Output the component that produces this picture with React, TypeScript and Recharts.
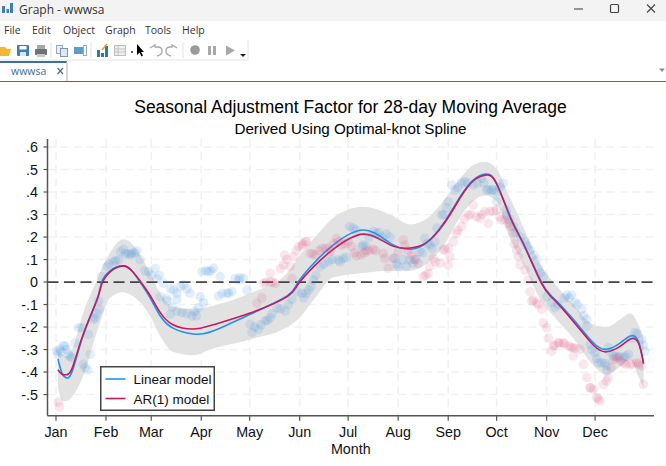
import React from 'react';
import { ComposedChart, Line, Area, Scatter, XAxis, YAxis, CartesianGrid, ReferenceLine, Legend } from 'recharts';

const MONTH_TICKS = [1, 32, 60, 91, 121, 152, 182, 213, 244, 274, 305, 335];
const MONTH_NAMES = ['Jan', 'Feb', 'Mar', 'Apr', 'May', 'Jun', 'Jul', 'Aug', 'Sep', 'Oct', 'Nov', 'Dec'];
const Y_TICKS = [-0.5, -0.4, -0.3, -0.2, -0.1, 0, 0.1, 0.2, 0.3, 0.4, 0.5, 0.6];
const MENU_ITEMS: [string, number][] = [['File', 4], ['Edit', 32], ['Object', 63], ['Graph', 105], ['Tools', 145], ['Help', 182]];

const days = [2.2, 4.7, 7.2, 10.9, 17.7, 26.4, 29.3, 34.5, 42.5, 48, 53.1, 59.3, 65.5, 73.5, 85.9, 98.3, 121.3, 144.2, 151, 161.6, 172.7, 191.3, 208, 220.5, 230.4, 241, 251.5, 259.5, 267, 273.8, 282.5, 290.5, 301.7, 309.1, 321.5, 333.9, 342, 350.7, 356.9, 361.8, 365];
const linearModel = [-0.342, -0.405, -0.425, -0.4, -0.24, -0.077, 0, 0.05, 0.072, 0.05, 0, -0.07, -0.15, -0.205, -0.231, -0.218, -0.143, -0.062, 0, 0.09, 0.164, 0.231, 0.173, 0.146, 0.173, 0.26, 0.38, 0.453, 0.48, 0.44, 0.29, 0.173, 0, -0.07, -0.166, -0.27, -0.299, -0.27, -0.24, -0.262, -0.365];
const ar1Model = [-0.39, -0.41, -0.412, -0.385, -0.235, -0.08, -0.01, 0.045, 0.072, 0.05, 0.005, -0.06, -0.135, -0.19, -0.209, -0.19, -0.138, -0.065, -0.01, 0.075, 0.145, 0.213, 0.165, 0.151, 0.175, 0.255, 0.375, 0.45, 0.475, 0.44, 0.285, 0.17, -0.005, -0.075, -0.175, -0.28, -0.31, -0.285, -0.253, -0.27, -0.36];
const bandHigh = [-0.31, -0.32, -0.33, -0.3, -0.14, 0.01, 0.06, 0.13, 0.19, 0.17, 0.12, 0.04, -0.05, -0.11, -0.12, -0.105, -0.05, 0.04, 0.11, 0.2, 0.285, 0.335, 0.3, 0.256, 0.28, 0.36, 0.46, 0.52, 0.535, 0.505, 0.37, 0.245, 0.07, 0, -0.1, -0.19, -0.2, -0.165, -0.14, -0.19, -0.25];
const bandLow = [-0.47, -0.525, -0.53, -0.51, -0.42, -0.22, -0.16, -0.07, -0.045, -0.06, -0.09, -0.15, -0.24, -0.31, -0.325, -0.295, -0.255, -0.2, -0.165, -0.07, 0.02, 0.04, 0.05, 0.05, 0.08, 0.16, 0.29, 0.36, 0.385, 0.36, 0.19, 0.08, -0.085, -0.15, -0.25, -0.37, -0.41, -0.375, -0.345, -0.42, -0.47];

const bluePoints: [number, number][] = [
  [1.4, -0.307], [3.5, -0.299], [5.6, -0.284], [6.6, -0.284], [8.7, -0.321], [10.7, -0.336], [12.8, -0.27], [14.9, -0.203], [17, -0.203], [21.1, -0.233], [22.1, -0.321], [18, -0.366], [20.5, -0.391], [24.2, -0.166], [25.2, -0.159], [27.7, -0.121], [27.3, -0.084],
  [29.3, 0.024], [32.4, 0.068], [36.6, 0.09], [39.7, 0.098], [42.8, 0.145], [45.9, 0.127], [48, 0.127], [51, 0.139], [58.3, 0.046], [62.4, 0.061], [63.4, 0.016], [67.6, -0.006], [73.8, -0.036], [75.9, -0.05], [80, -0.013], [84.1, -0.05], [91.4, 0.046], [95.5, 0.046], [98.6, 0.061], [102.7, 0.024], [114.1, 0.009], [117.2, 0.016], [106.9, -0.05], [110, -0.043], [119.3, -0.036], [90.3, -0.065], [69.7, -0.073], [65.5, -0.065],
  [69.7, -0.084], [75.9, -0.077], [71.7, -0.144], [79, -0.136], [85.2, -0.151], [89.3, -0.114], [92.4, -0.092], [101.7, -0.062], [121.3, -0.188], [122.4, -0.225], [126.5, -0.21], [130.6, -0.173], [133.7, -0.159], [137.9, -0.114], [143, -0.129], [147.2, -0.077], [154.4, -0.07],
  [150.3, -0.043], [157.5, -0.036], [153.4, -0.05], [160.6, 0.009], [164.7, 0.068], [169.9, 0.09],
  [175.8, 0.098], [178.9, 0.105], [183, 0.246], [185.1, 0.239], [191.3, 0.164], [190.3, 0.157], [197.5, 0.224], [205.8, 0.213], [199.6, 0.216], [213, 0.068], [210.9, 0.105], [220.2, 0.098], [222.3, 0.083], [226.4, 0.135], [229.5, 0.194], [232.6, 0.164], [235.7, 0.179], [239.9, 0.298], [244, 0.357], [248.1, 0.409], [246.1, 0.431], [254.3, 0.446], [259.5, 0.431], [264.7, 0.461], [267.8, 0.409], [270.9, 0.409], [274, 0.401], [278.1, 0.439], [274, 0.357], [280.2, 0.298], [284.3, 0.246], [291.6, 0.179], [294.7, 0.142], [298.8, 0.098], [299.8, 0.061], [302.9, 0.024], [305, -0.065], [317.4, -0.058], [320.5, -0.058],
  [310.2, -0.114], [322.6, -0.092], [326.7, -0.121], [329.8, -0.166], [329.8, -0.196], [331.9, -0.277], [335, -0.314], [337, -0.359], [339.1, -0.359], [342.2, -0.373], [343.2, -0.292], [346.3, -0.329], [352.5, -0.336], [355.6, -0.321], [359.8, -0.225], [363.9, -0.255], [366, -0.307], [342.2, -0.396],
  [2, -0.32], [4, -0.31], [7.5, -0.3], [9.5, -0.33], [19, -0.38], [26, -0.14],
  [34, 0.08], [38, 0.095], [41, 0.135], [44, 0.125], [47, 0.12], [50, 0.13], [53, 0.1], [56, 0.05], [60, 0.03], [65, 0.03], [72, -0.03], [78, -0.02], [82, -0.03],
  [73, -0.11], [76, -0.13], [82, -0.14], [87, -0.13], [88, -0.15], [94, 0.05], [97, 0.05], [104, -0.05], [108, -0.05], [112, 0.015], [115, 0.02],
  [124, -0.2], [128, -0.19], [132, -0.17], [135, -0.14], [140, -0.12], [145, -0.1],
  [156, -0.05], [159, -0.02], [162, 0.03], [167, 0.08], [172, 0.1],
  [177, 0.09], [181, 0.11], [187, 0.23], [193, 0.16], [195, 0.2], [201, 0.22], [203, 0.2], [208, 0.2],
  [212, 0.08], [216, 0.1], [218, 0.07], [224, 0.1], [228, 0.13], [231, 0.17], [234, 0.15],
  [237, 0.24], [241, 0.3], [243, 0.33], [250, 0.42], [252, 0.44], [256, 0.44], [262, 0.44], [266, 0.44],
  [269, 0.41], [272, 0.41], [276, 0.42], [280, 0.32], [282, 0.28], [286, 0.22], [289, 0.2], [293, 0.16], [297, 0.12], [301, 0.04],
  [308, -0.09], [312, -0.1], [316, -0.07], [319, -0.07], [324, -0.1], [328, -0.15],
  [333, -0.3], [336, -0.34], [341, -0.36], [344, -0.31], [348, -0.33], [350, -0.33], [354, -0.33], [358, -0.25], [361, -0.23], [365, -0.28],
];

const pinkPoints: [number, number][] = [
  [2.5, -0.533], [3.1, -0.556], [125.5, -0.095], [128.6, -0.07],
  [129.6, -0.006], [133.7, 0.001], [136.8, -0.006], [133.7, 0.039], [142, 0.076], [142.6, 0.12], [148.2, 0.113], [151.3, 0.157], [155.4, 0.179], [153.4, 0.164], [146.1, 0.068], [147.2, 0.016], [158.5, 0.127], [161.6, 0.12], [165.8, 0.15], [169.9, 0.15], [171, 0.135],
  [174.8, 0.194], [177.9, 0.164], [182, 0.179], [184.1, 0.157], [187.2, 0.116], [193.4, 0.139], [197.5, 0.145], [203.7, 0.127], [204.7, 0.105], [206.8, 0.061], [209.9, 0.105], [213, 0.135], [216.1, 0.187], [217.1, 0.164], [221.3, 0.12], [225.4, 0.083], [228.5, 0.024], [231.6, 0.039], [232.6, 0.068], [234.7, 0.105], [238.8, 0.083], [240.9, 0.142], [244, 0.15], [245, 0.113], [244, 0.076], [247.1, 0.179], [249.2, 0.216], [252.3, 0.246], [256.4, 0.298], [259.5, 0.342], [261.6, 0.29], [263.6, 0.283], [266.7, 0.313], [268.8, 0.261], [269.8, 0.313], [274, 0.32], [277.1, 0.276], [279.2, 0.276], [282.3, 0.246], [284.3, 0.216], [286.4, 0.142], [287.4, 0.113], [288.5, 0.076], [291.6, 0.053], [293.6, 0.009], [294.7, -0.043], [296.7, -0.08],
  [295.7, -0.084], [298.8, -0.092], [301.9, -0.121], [302.9, -0.181], [305, -0.203], [308.1, -0.307], [309.1, -0.284], [312.2, -0.27], [315.3, -0.27], [318.4, -0.284], [321.5, -0.292], [321.5, -0.329], [325.7, -0.299], [327.7, -0.366], [329.8, -0.425], [331.9, -0.47], [334, -0.477], [336, -0.514], [338.1, -0.529], [340.1, -0.455], [343.2, -0.425], [346.3, -0.344], [349.4, -0.336], [352.5, -0.359], [356.6, -0.366], [360.8, -0.359], [363.9, -0.373], [364.9, -0.455],
  [131, 0], [135, 0], [140, 0.06], [144, 0.1], [150, 0.14], [154, 0.17], [156, 0.18],
  [160, 0.125], [164, 0.14], [168, 0.15], [173, 0.17], [176, 0.18], [180, 0.17], [186, 0.13], [190, 0.12], [192, 0.13], [195, 0.14], [199, 0.14],
  [219, 0.14], [223, 0.1], [230, 0.03], [236, 0.09], [242, 0.145],
  [250, 0.23], [254, 0.28], [258, 0.3], [265, 0.3], [272, 0.315], [276, 0.29],
  [281, 0.26], [285, 0.17],
  [300, -0.1], [306, -0.25], [310, -0.28], [313, -0.27], [316, -0.275], [320, -0.29], [323, -0.295],
  [332, -0.47], [337, -0.52], [342, -0.44], [345, -0.38], [348, -0.34], [351, -0.35], [354, -0.365], [358, -0.365], [362, -0.365],
];

const curveRows = days.map((day, i) => ({ day, linear: linearModel[i], ar1: ar1Model[i], band: [bandLow[i], bandHigh[i]] }));
const blueRows = bluePoints.map(([day, v]) => ({ day, v }));
const pinkRows = pinkPoints.map(([day, v]) => ({ day, v }));

const AXIS = '#555555';
const FONT = '"Liberation Sans", Arial, sans-serif';
const UI = '"Open Sans", "Noto Sans", sans-serif';

const fmtY = (v: number) => {
  if (v === 0) return '0';
  return v.toFixed(1).replace('0.', '.');
};
const fmtX = (v: number) => MONTH_NAMES[MONTH_TICKS.indexOf(v)] ?? '';

const Dot = (color: string, alpha: number) => (p: any) => (
  <circle cx={p.cx} cy={p.cy} r={4.8} fill={color} fillOpacity={alpha} />
);

const LegendBox = ({ payload }: any) => (
  <svg width={115} height={45} style={{ display: 'block' }}>
    <rect x={0.75} y={0.75} width={113.5} height={43.5} fill="#fff" stroke="#444" strokeWidth={1.5} />
    {(payload || []).filter((e: any) => e.type !== 'none').map((e: any, i: number) => (
      <g key={e.value}>
        <line x1={5.5} x2={25.5} y1={13 + i * 19.5} y2={13 + i * 19.5} stroke={e.color} strokeWidth={1.6} />
        <text x={33.5} y={18 + i * 19.5} fontFamily={FONT} fontSize={13.5} fill="#111">{e.value}</text>
      </g>
    ))}
  </svg>
);

const Chrome = () => (
  <>
    <div style={{ position: 'absolute', left: 0, top: 0, width: 666, height: 21, background: '#f3f3f3' }} />
    <svg width={666} height={82} style={{ position: 'absolute', left: 0, top: 0 }}>
      <rect x={2} y={6} width={3} height={7} fill="#3f7fb5" /><rect x={6.5} y={9} width={2.5} height={4} fill="#3f7fb5" /><rect x={10} y={3} width={3} height={10} fill="#3f7fb5" />
      <line x1={574} x2={583} y1={9} y2={9} stroke="#555" strokeWidth={1.2} />
      <rect x={610.5} y={4.5} width={8} height={8} rx={1} fill="none" stroke="#444" strokeWidth={1.2} />
      <path d="M647 4.5 L655 12.5 M655 4.5 L647 12.5" stroke="#444" strokeWidth={1.1} />
      <line x1={0} x2={248} y1={60} y2={60} stroke="#e4e4e4" />
      <line x1={248} x2={248} y1={40} y2={60} stroke="#e4e4e4" />
      <line x1={51} x2={51} y1={43} y2={58} stroke="#e0e0e0" /><line x1={91} x2={91} y1={43} y2={58} stroke="#e0e0e0" /><line x1={183} x2={183} y1={43} y2={58} stroke="#e0e0e0" />
      <path d="M0 47 L5 47 L7 49 L11 49 L9 56 L0 56 Z" fill="#f2b632" />
      <rect x={17} y={45} width={12} height={11} rx={1} fill="#3f7fb5" /><rect x={19.5} y={46} width={7} height={3.5} fill="#fff" /><rect x={20} y={52} width={6} height={4} fill="#dbe7f1" />
      <rect x={35} y={49} width={12} height={6} rx={1} fill="#707070" /><rect x={37} y={45} width={8} height={4} fill="#a8a8a8" /><rect x={37} y={54} width={8} height={3} fill="#c8c8c8" />
      <rect x={56.5} y={45.5} width={6} height={8} fill="#e8eef4" stroke="#9aa9b8" /><rect x={60.5} y={48.5} width={7} height={8} fill="#dbe7f1" stroke="#7f97ad" />
      <rect x={74} y={47} width={9} height={7} fill="#5f9ac8" /><rect x={83.5} y={45.5} width={3} height={10} fill="#fff" stroke="#9aa9b8" />
      <rect x={97} y={50} width={3} height={7} fill="#2f75b5" /><rect x={101} y={53} width={3} height={4} fill="#2f75b5" /><rect x={105} y={46} width={3} height={11} fill="#2f75b5" /><path d="M102 50 L107 44" stroke="#e0a030" strokeWidth={1.5} />
      <rect x={114.5} y={45.5} width={11} height={10} fill="#f0f0f0" stroke="#bdbdbd" /><path d="M115 49 H125 M115 52 H125 M118 46 V55" stroke="#c4c4c4" />
      <path d="M131 51 l2 2 m0 -2 l-2 2" stroke="#333" strokeWidth={0.8} />
      <path d="M137 44 L137 55 L139.5 52.5 L141.5 56.5 L143 55.5 L141 52 L144 52 Z" fill="#000" />
      <path d="M150 48 L155 45 V47 H158 Q162 47 162 51 Q162 55 157 56" fill="none" stroke="#a8a8a8" strokeWidth={1.3} />
      <path d="M177 48 L172 45 V47 H170 Q166 47 166 51 Q166 55 171 56" fill="none" stroke="#a8a8a8" strokeWidth={1.3} />
      <circle cx={195} cy={50} r={4.8} fill="#9a9a9a" />
      <rect x={208} y={46} width={3} height={9} fill="#a8a8a8" /><rect x={213} y={46} width={3} height={9} fill="#a8a8a8" />
      <path d="M226 45.5 L235 50.5 L226 55.5 Z" fill="#a8a8a8" />
      <path d="M240 54 H246 L243 57 Z" fill="#222" />
      <path d="M659 68.5 H665 L662 72 Z" fill="#8a8a8a" />
      <rect x={0} y={61} width={67} height={2} fill="#3f6f94" />
      <line x1={67} x2={67} y1={62} y2={81} stroke="#c8c8c8" strokeWidth={1.5} />
      <path d="M57.5 68 L63 74 M63 68 L57.5 74" stroke="#3f6f94" strokeWidth={1.2} />
      <rect x={0} y={81} width={666} height={1.2} fill="#3f6f94" />
    </svg>
    <div style={{ position: 'absolute', left: 19, top: 1, fontFamily: UI, fontSize: 12, lineHeight: '17px', color: '#333' }}>Graph - wwwsa</div>
    {MENU_ITEMS.map(([m, x]) => (
      <div key={m} style={{ position: 'absolute', left: x, top: 22, fontFamily: UI, fontSize: 10.5, lineHeight: '17px', color: '#333' }}>{m}</div>
    ))}
    <div style={{ position: 'absolute', left: 11, top: 63, fontFamily: UI, fontSize: 10.5, lineHeight: '17px', color: '#3f6f94' }}>wwwsa</div>
  </>
);

export default function App() {
  return (
    <div style={{ position: 'absolute', left: 0, top: 0, width: 666, height: 466, background: '#fff', overflow: 'hidden' }}>
      <Chrome />
      <div style={{ position: 'absolute', left: 0, width: 701, top: 97, textAlign: 'center', fontFamily: FONT, fontSize: 17.5, lineHeight: '21px', color: '#000' }}>Seasonal Adjustment Factor for 28-day Moving Average</div>
      <div style={{ position: 'absolute', left: 0, width: 701, top: 120, textAlign: 'center', fontFamily: FONT, fontSize: 15.2, lineHeight: '18px', color: '#000' }}>Derived Using Optimal-knot Spline</div>
      <div style={{ position: 'absolute', left: 0, top: 0 }}>
        <ComposedChart width={666} height={466} data={curveRows} margin={{ top: 139, right: 12, bottom: 0, left: 0 }}>
          <CartesianGrid stroke="#f1f1f1" strokeWidth={1.6} strokeDasharray="8 5" horizontalValues={Y_TICKS} verticalValues={MONTH_TICKS} />
          <XAxis type="number" dataKey="day" domain={[-4.27, 371.5]} allowDataOverflow ticks={MONTH_TICKS} tickFormatter={fmtX} interval={0} height={50.3}
            axisLine={{ stroke: AXIS, strokeWidth: 1.5 }} tickLine={{ stroke: AXIS, strokeWidth: 1.2 }} tickSize={5} tickMargin={6}
            tick={{ fontFamily: FONT, fontSize: 14.3, fill: '#111' }}
            label={{ value: 'Month', position: 'insideBottom', offset: 12, fontFamily: FONT, fontSize: 14.3, fill: '#111' }} />
          <YAxis type="number" domain={[-0.594, 0.6356]} allowDataOverflow ticks={Y_TICKS} tickFormatter={fmtY} interval={0} width={47.5}
            axisLine={{ stroke: AXIS, strokeWidth: 1.5 }} tickLine={{ stroke: AXIS, strokeWidth: 1.2 }} tickSize={4} tickMargin={5.5}
            tick={{ fontFamily: FONT, fontSize: 14.3, fill: '#111' }} />
          <Area dataKey="band" type="monotone" stroke="none" fill="#e2e2e2" fillOpacity={1} isAnimationActive={false} legendType="none" activeDot={false} dot={false} />
          <Scatter data={blueRows} dataKey="v" shape={Dot('#3d8de0', 0.15)} isAnimationActive={false} legendType="none" />
          <Scatter data={pinkRows} dataKey="v" shape={Dot('#d63a72', 0.13)} isAnimationActive={false} legendType="none" />
          <ReferenceLine y={0} stroke="#444" strokeWidth={1.8} strokeDasharray="11 5.5" />
          <Line dataKey="linear" name="Linear model" type="natural" stroke="#2391ea" strokeWidth={1.6} dot={false} activeDot={false} isAnimationActive={false} />
          <Line dataKey="ar1" name="AR(1) model" type="natural" stroke="#c9175e" strokeWidth={1.6} dot={false} activeDot={false} isAnimationActive={false} />
          <Legend layout="horizontal" verticalAlign="middle" align="center" itemSorter={null} content={<LegendBox />} wrapperStyle={{ position: 'absolute', left: 100, top: 366, width: 115, height: 45, margin: 0, padding: 0 }} />
        </ComposedChart>
      </div>
    </div>
  );
}
